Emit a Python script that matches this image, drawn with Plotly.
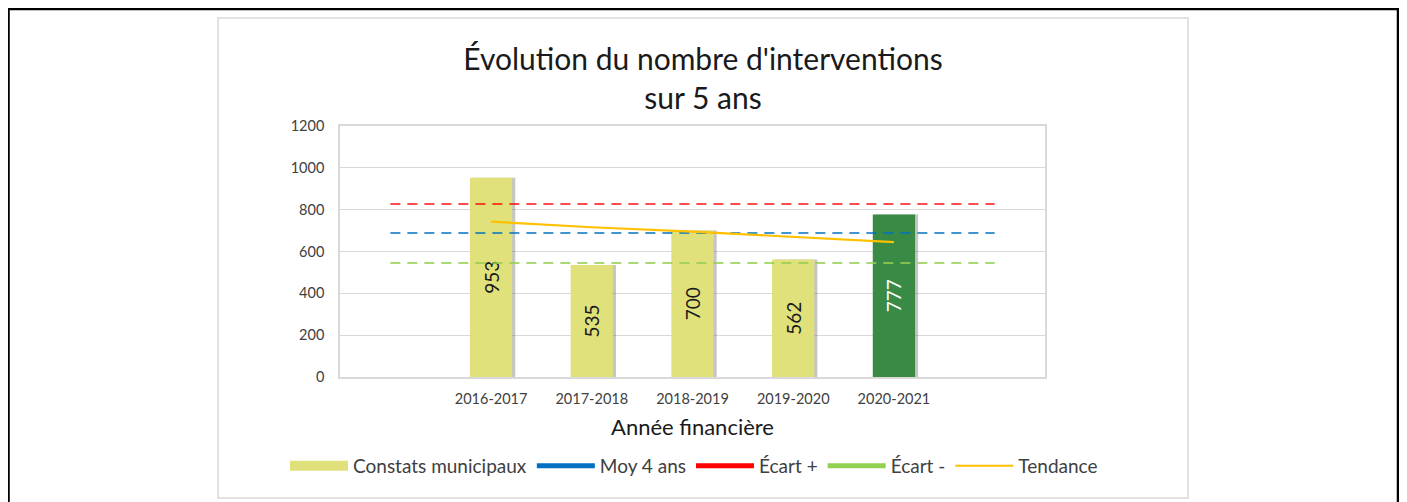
import plotly.graph_objects as go

# ---- data ----
categories = ["", "2016-2017", "2017-2018", "2018-2019", "2019-2020", "2020-2021", ""]
years = ["2016-2017", "2017-2018", "2018-2019", "2019-2020", "2020-2021"]
constats = [953, 535, 700, 562, 777]
moy_4_ans = [689, 689, 689, 689, 689, 689, 689]
ecart_plus = [827, 827, 827, 827, 827, 827, 827]
ecart_moins = [545, 545, 545, 545, 545, 545, 545]
tendance = [743, 716, 695, 671, 645]
y_ticks = [0, 200, 400, 600, 800, 1000, 1200]

# page is drawn with an 8px body margin, so figure coords = screen - 8
OFF = 8
W, H = 1391, 494
L, R, T, B = 340 - OFF, 1045 - OFF, 126 - OFF, 377 - OFF
FONT = "Lato, Carlito, Calibri, sans-serif"

x_all = list(range(len(categories)))
x_bars = [categories.index(y) for y in years]

bar_colors = ["#E0E17B"] * 4 + ["#388A44"]
text_colors = ["#1a1a1a"] * 4 + ["#ffffff"]

fig = go.Figure()

# soft shadow behind bars
fig.add_trace(go.Bar(
    x=x_bars, y=constats, width=0.42, offset=-0.18,
    marker=dict(color="rgba(90,90,90,0.35)", line=dict(width=0)),
    showlegend=False, hoverinfo="skip"))

fig.add_trace(go.Bar(
    x=x_bars, y=constats, width=0.42, offset=-0.21,
    name="Constats municipaux",
    marker=dict(color=bar_colors, line=dict(width=0)),
    text=[str(v) for v in constats], textposition="inside",
    insidetextanchor="middle", textangle=-90,
    textfont=dict(family=FONT, size=19, color=text_colors),
    showlegend=False))

dash = "10px,7px"
fig.add_trace(go.Scatter(x=x_all, y=moy_4_ans, mode="lines",
                         line=dict(color="rgba(0,112,192,0.75)", width=2, dash=dash),
                         showlegend=False, hoverinfo="skip"))
fig.add_trace(go.Scatter(x=x_all, y=ecart_plus, mode="lines",
                         line=dict(color="rgba(255,0,0,0.7)", width=2, dash=dash),
                         showlegend=False, hoverinfo="skip"))
fig.add_trace(go.Scatter(x=x_all, y=ecart_moins, mode="lines",
                         line=dict(color="rgba(146,208,80,0.8)", width=2, dash=dash),
                         showlegend=False, hoverinfo="skip"))
fig.add_trace(go.Scatter(x=x_bars, y=tendance, mode="lines",
                         line=dict(color="#FFC000", width=2.2),
                         showlegend=False, hoverinfo="skip"))

# legend entries (Excel-like swatches)
fig.add_trace(go.Scatter(x=[None], y=[None], mode="lines", name="Constats municipaux",
                         line=dict(color="#E0E17B", width=14)))
fig.add_trace(go.Scatter(x=[None], y=[None], mode="lines", name="Moy 4 ans",
                         line=dict(color="#0070C0", width=5)))
fig.add_trace(go.Scatter(x=[None], y=[None], mode="lines", name="Écart +",
                         line=dict(color="#FF0000", width=5)))
fig.add_trace(go.Scatter(x=[None], y=[None], mode="lines", name="Écart -",
                         line=dict(color="#92D050", width=5)))
fig.add_trace(go.Scatter(x=[None], y=[None], mode="lines", name="Tendance",
                         line=dict(color="#FFC000", width=2)))

def px_x(p):
    return (p - OFF - L) / (R - L)

def px_y(p):
    return (B - (p - OFF)) / (B - T)

shapes = [
    dict(type="rect", xref="paper", yref="paper",
         x0=px_x(218), x1=px_x(1188), y0=px_y(498), y1=px_y(18),
         line=dict(color="#D9D9D9", width=1.5), fillcolor="rgba(0,0,0,0)", layer="below"),
    dict(type="rect", xref="paper", yref="paper",
         x0=px_x(8.5), x1=px_x(1398), y0=px_y(530), y1=px_y(9),
         line=dict(color="#000000", width=2.5), fillcolor="rgba(0,0,0,0)", layer="below"),
]

fig.update_layout(
    width=W, height=H,
    margin=dict(l=L, r=W - R, t=T, b=H - B, autoexpand=False),
    paper_bgcolor="white", plot_bgcolor="white",
    font=dict(family=FONT, color="#404040"),
    barmode="overlay",
    title=dict(text="Évolution du nombre d'interventions<br>sur 5 ans",
               x=(703 - OFF) / W, xanchor="center", xref="container",
               y=1 - 62 / H, yanchor="middle", yref="container",
               font=dict(family=FONT, size=30, color="#1a1a1a")),
    xaxis=dict(range=[-0.5, len(categories) - 0.5], tickmode="array",
               tickvals=x_all, ticktext=categories, showgrid=False,
               zeroline=False, showline=True, linecolor="#D9D9D9", linewidth=1.5,
               mirror=True, ticks="", ticklabelstandoff=8,
               tickfont=dict(size=14.5, color="#404040"),
               title=dict(text="Année financière", standoff=13,
                          font=dict(size=22, color="#1a1a1a"))),
    yaxis=dict(range=[0, 1200], tickmode="array", tickvals=y_ticks,
               showgrid=True, gridcolor="#D9D9D9", gridwidth=1,
               zeroline=False, showline=True, linecolor="#D9D9D9", linewidth=1.5,
               mirror=True, ticks="", ticklabelstandoff=11,
               tickfont=dict(size=14.5, color="#404040")),
    legend=dict(orientation="h", xref="paper", yref="paper",
                x=px_x(285), xanchor="left", y=px_y(466), yanchor="middle",
                font=dict(size=19, color="#404040"), itemwidth=58,
                traceorder="normal"),
    shapes=shapes,
)

fig.write_html("out.html")
